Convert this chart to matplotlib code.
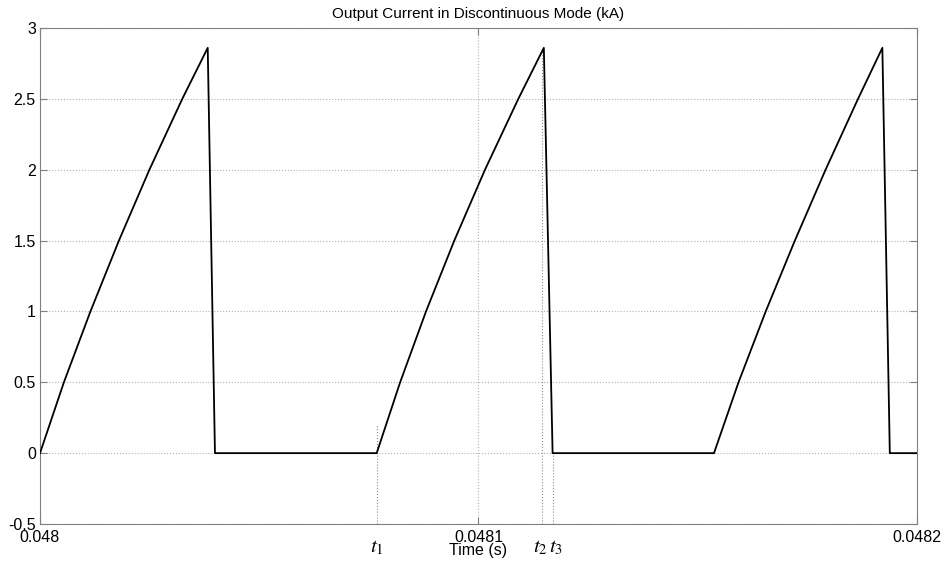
import matplotlib
matplotlib.use("Agg")
import matplotlib.pyplot as plt
import matplotlib.transforms as mtransforms
import numpy as np

plt.rcParams['font.family'] = ['Liberation Sans', 'DejaVu Sans']
plt.rcParams['mathtext.fontset'] = 'stix'

# time offsets in microseconds after t = 0.048 s, current in kA
t_start = 0.048
rise_levels = [0.0, 0.5, 1.0, 1.5, 2.0, 2.5, 2.86]
cycle1_us = [0.0, 5.45, 11.5, 18.0, 24.95, 32.45, 38.25]
cycle2_us = [76.78, 82.13, 88.03, 94.48, 101.48, 109.08, 114.9]
cycle3_us = [153.7, 159.3, 165.5, 172.15, 179.15, 186.55, 192.1]
fall_end_us = [39.9, 116.9, 193.8]
end_us = 200.0

# switching instants marked below the axis
t1_us = 76.78
t2_us = 114.5
t3_us = 116.9

# stitch the three cycles together: ramp up, fall, then zero until next ramp
times_us = []
current = []
for ramp, fall in zip([cycle1_us, cycle2_us, cycle3_us], fall_end_us):
    times_us += ramp
    current += rise_levels
    times_us.append(fall)
    current.append(0.0)
times_us.append(end_us)
current.append(0.0)

time_s = t_start + np.array(times_us) * 1e-6
current = np.array(current)

fig = plt.figure(figsize=(9.42, 5.67), dpi=100)
ax = fig.add_axes([40 / 942, 43 / 567, 877 / 942, 496 / 567])

ax.plot(time_s, current, color='black', linewidth=1.3, zorder=3)

ax.set_xlim(0.048, 0.0482)
ax.set_ylim(-0.5, 3)
ax.set_xticks([0.048, 0.0481, 0.0482])
ax.set_xticklabels(['0.048', '0.0481', '0.0482'])
ax.set_yticks([-0.5, 0, 0.5, 1, 1.5, 2, 2.5, 3])
ax.set_yticklabels(['-0.5', '0', '0.5', '1', '1.5', '2', '2.5', '3'])

ax.grid(True, color='#b0b0b0', linestyle=':', linewidth=0.8)
for sp in ax.spines.values():
    sp.set_color('#808080')
    sp.set_linewidth(0.8)
ax.tick_params(direction='in', length=5, width=0.8, color='#808080',
               top=True, right=True, labelsize=11.5, pad=3)
ax.tick_params(axis='x', pad=4)

ax.set_title('Output Current in Discontinuous Mode (kA)', fontsize=11, pad=7)
ax.set_xlabel('Time (s)', fontsize=11.5, labelpad=-1)

# dotted markers for t1, t2, t3
mk = dict(color='#909090', linestyle=':', linewidth=0.8, zorder=2)
ax.plot([t_start + t1_us * 1e-6] * 2, [-0.5, 0.2], **mk)
ax.plot([t_start + t2_us * 1e-6] * 2, [-0.5, 2.86], **mk)
ax.plot([t_start + t3_us * 1e-6] * 2, [-0.5, 0.0], **mk)

trans = mtransforms.blended_transform_factory(ax.transData, ax.transAxes)
for lbl, tu, dx in [('$t_1$', t1_us, 0.0), ('$t_2$', t2_us, -0.4), ('$t_3$', t3_us, 0.8)]:
    ax.text(t_start + (tu + dx) * 1e-6, -0.048, lbl, transform=trans,
            ha='center', va='center', fontsize=15)

fig.savefig('out.png', dpi=100)
